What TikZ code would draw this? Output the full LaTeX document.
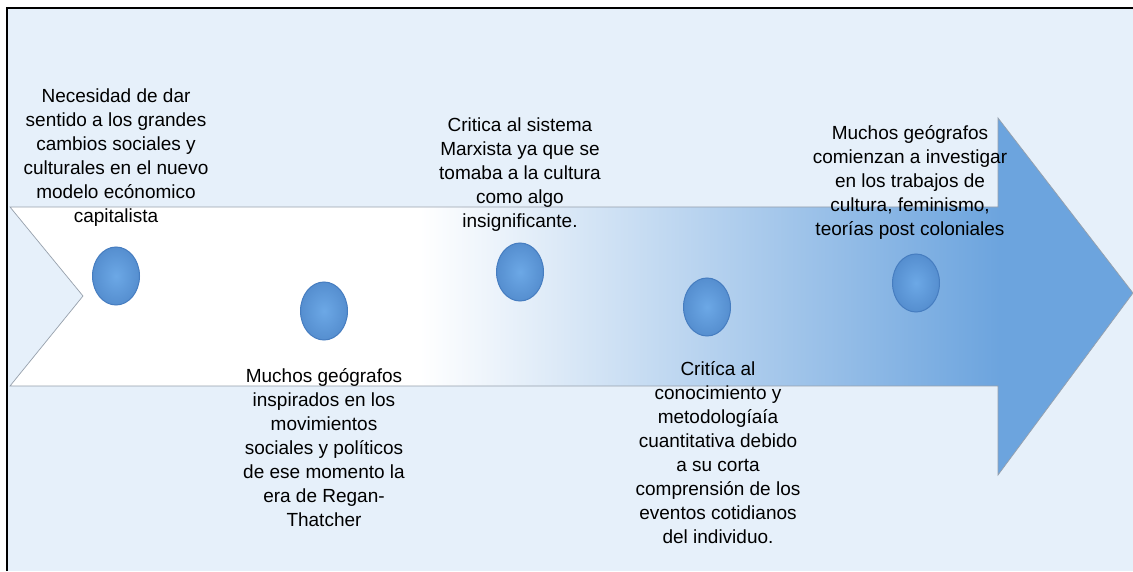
\documentclass[tikz,border=0pt]{standalone}
\usepackage{fontspec}
\setmainfont{Liberation Sans}
\usepackage{tikz}
\usetikzlibrary{ 
  	positioning,
  	shapes.geometric
  }
\definecolor{fondo}{RGB}{230,240,250}
\definecolor{flecha}{RGB}{108,164,222}
\definecolor{borde}{RGB}{150,160,172}
\definecolor{hitoclaro}{RGB}{108,168,230}
\definecolor{hitooscuro}{RGB}{70,125,192}

\begin{document}
\begin{tikzpicture}[x=1pt, y=1pt,
  hito/.style={ellipse, minimum width=47pt, minimum height=58pt, inner sep=0pt, draw=hitooscuro, line width=1pt, inner color=hitoclaro, outer color=hitooscuro!60!hitoclaro},
  nota/.style={align=center, inner sep=0pt, font=\fontsize{19}{24}\selectfont}]
	\useasboundingbox (0,0) rectangle (1133,571);
	\fill[fondo] (7,0) rectangle (1133,563);
	\draw[line width=2pt] (7,0) -- (7,563) -- (1133,563);
%
	\begin{scope}
		\clip (10,364) -- (998,364) -- (998,453) -- (1133,278) -- (998,96) -- (998,185) -- (10,185) -- (83,275) -- cycle;
		\fill[white] (10,96) rectangle (1133,453);
		\shade[left color=white, right color=flecha] (420,96) rectangle (1000,453);
		\fill[flecha] (999,96) rectangle (1133,453);
	\end{scope}
	\draw[borde, line width=.7pt] (10,364) -- (998,364) -- (998,453) -- (1133,278) -- (998,96) -- (998,185) -- (10,185) -- (83,275) -- cycle;
%
	\node[hito] (D1) at (116,295) {};
	\node[hito] (D2) at (324,260) {};
	\node[hito] (D3) at (520,299) {};
	\node[hito] (D4) at (707,264) {};
	\node[hito] (D5) at (916,288) {};
%
	\node[nota, above=20pt of D1] (T1) {Necesidad de dar\\sentido a los grandes\\cambios sociales y\\culturales en el nuevo\\modelo ecónomico\\capitalista};
	\node[nota, below=28pt of D2] (T2) {Muchos geógrafos\\inspirados en los\\movimientos\\sociales y políticos\\de ese momento la\\era de Regan-\\Thatcher};
	\node[nota, above=11pt of D3] (T3) {Critica al sistema\\Marxista ya que se\\tomaba a la cultura\\como algo\\insignificante.};
	\node[nota, below=25pt of D4, xshift=11pt] (T4) {Critíca al\\conocimiento y\\metodologíaía\\cuantitativa debido\\a su corta\\comprensión de los\\eventos cotidianos\\del individuo.};
	\node[nota, above=14pt of D5, xshift=-6pt] (T5) {Muchos geógrafos\\comienzan a investigar\\en los trabajos de\\cultura, feminismo,\\teorías post coloniales};
\end{tikzpicture}
\end{document}
